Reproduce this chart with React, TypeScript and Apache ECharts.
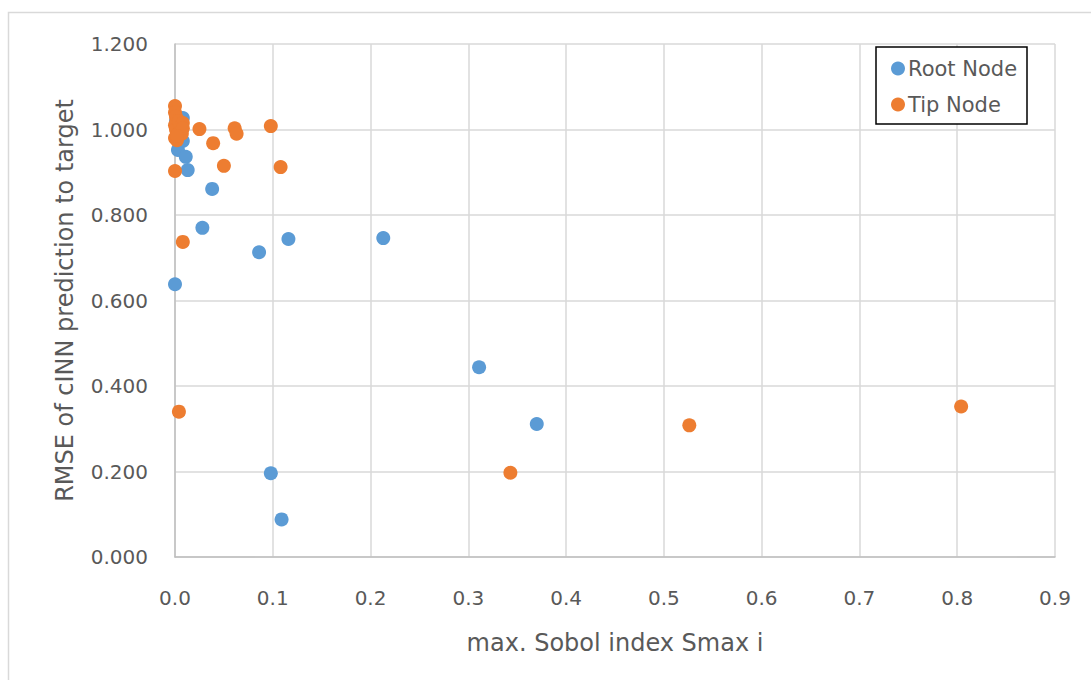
import React, { useEffect, useRef } from "react";
import * as echarts from "echarts";

const rootX = [0.000, 0.028, 0.038, 0.086, 0.116, 0.213, 0.311, 0.370, 0.098, 0.109, 0.001, 0.001, 0.003, 0.008, 0.008, 0.011, 0.013, 0.002];
const rootY = [0.638, 0.770, 0.861, 0.713, 0.744, 0.746, 0.444, 0.311, 0.196, 0.088, 1.020, 0.980, 0.952, 1.027, 0.973, 0.936, 0.905, 1.000];

const tipX = [0.000, 0.025, 0.039, 0.050, 0.061, 0.063, 0.098, 0.108, 0.000, 0.008, 0.004, 0.343, 0.526, 0.804, 0.000, 0.001, 0.002, 0.000, 0.001, 0.003, 0.000, 0.005, 0.006, 0.007, 0.004, 0.002, 0.008, 0.008, 0.002];
const tipY = [1.055, 1.001, 0.968, 0.915, 1.003, 0.990, 1.008, 0.912, 0.903, 0.737, 0.340, 0.197, 0.308, 0.352, 1.040, 1.030, 1.020, 1.010, 1.000, 0.990, 0.980, 1.010, 1.000, 0.990, 1.020, 0.975, 1.015, 1.003, 0.985];

const seriesNames = ["Root Node", "Tip Node"];
const xTitle = "max. Sobol index Smax i";
const yTitle = "RMSE of cINN prediction to target";

export default function App() {
  const ref = useRef<HTMLDivElement>(null);
  useEffect(() => {
    const chart = echarts.init(ref.current!, undefined, { renderer: "svg" });
    const font = "'DejaVu Sans', sans-serif";
    chart.setOption({
      animation: false,
      backgroundColor: "#ffffff",
      grid: { left: 175, right: 36, top: 44, bottom: 123 },
      graphic: [
        {
          type: "rect",
          shape: { x: 8.5, y: 12.5, width: 1200, height: 800 },
          style: { fill: "none", stroke: "#d9d9d9", lineWidth: 1.5 },
          silent: true,
          z: -10,
        },
        {
          type: "rect",
          shape: { x: 876, y: 47, width: 151, height: 77 },
          style: { fill: "#ffffff", stroke: "#000000", lineWidth: 1.5 },
          z: 50,
        },
      ],
      legend: {
        orient: "vertical",
        left: 886,
        top: 53,
        itemGap: 15,
        itemWidth: 14,
        itemHeight: 14,
        icon: "circle",
        z: 60,
        textStyle: { fontFamily: font, fontSize: 21, color: "#595959", padding: [0, 0, 0, -2] },
        data: seriesNames,
      },
      xAxis: {
        type: "value",
        min: 0,
        max: 0.9,
        interval: 0.1,
        name: xTitle,
        nameLocation: "middle",
        nameGap: 74,
        nameTextStyle: { fontFamily: font, fontSize: 24, color: "#595959" },
        axisLine: { show: true, lineStyle: { color: "#bfbfbf", width: 1.5 } },
        axisTick: { show: false },
        splitLine: { show: true, lineStyle: { color: "#d9d9d9", width: 1.5 } },
        axisLabel: {
          fontFamily: font,
          fontSize: 20,
          color: "#595959",
          margin: 31,
          formatter: (v: number) => v.toFixed(1),
        },
      },
      yAxis: {
        type: "value",
        min: 0,
        max: 1.2,
        interval: 0.2,
        name: yTitle,
        nameLocation: "middle",
        nameGap: 98,
        nameTextStyle: { fontFamily: font, fontSize: 24, color: "#595959" },
        axisLine: { show: true, lineStyle: { color: "#bfbfbf", width: 1.5 } },
        axisTick: { show: false },
        splitLine: { show: true, lineStyle: { color: "#d9d9d9", width: 1.5 } },
        axisLabel: {
          fontFamily: font,
          fontSize: 20,
          color: "#595959",
          margin: 27,
          formatter: (v: number) => v.toFixed(3),
        },
      },
      series: [
        {
          name: seriesNames[0],
          type: "scatter",
          symbolSize: 14,
          itemStyle: { color: "#5b9bd5", opacity: 1 },
          data: rootX.map((x, i) => [x, rootY[i]]),
          z: 3,
        },
        {
          name: seriesNames[1],
          type: "scatter",
          symbolSize: 14,
          itemStyle: { color: "#ed7d31", opacity: 1 },
          data: tipX.map((x, i) => [x, tipY[i]]),
          z: 4,
        },
      ],
    });
    return () => chart.dispose();
  }, []);
  return (
    <div
      ref={ref}
      style={{ position: "fixed", left: 0, top: 0, width: 1091, height: 680 }}
    />
  );
}
